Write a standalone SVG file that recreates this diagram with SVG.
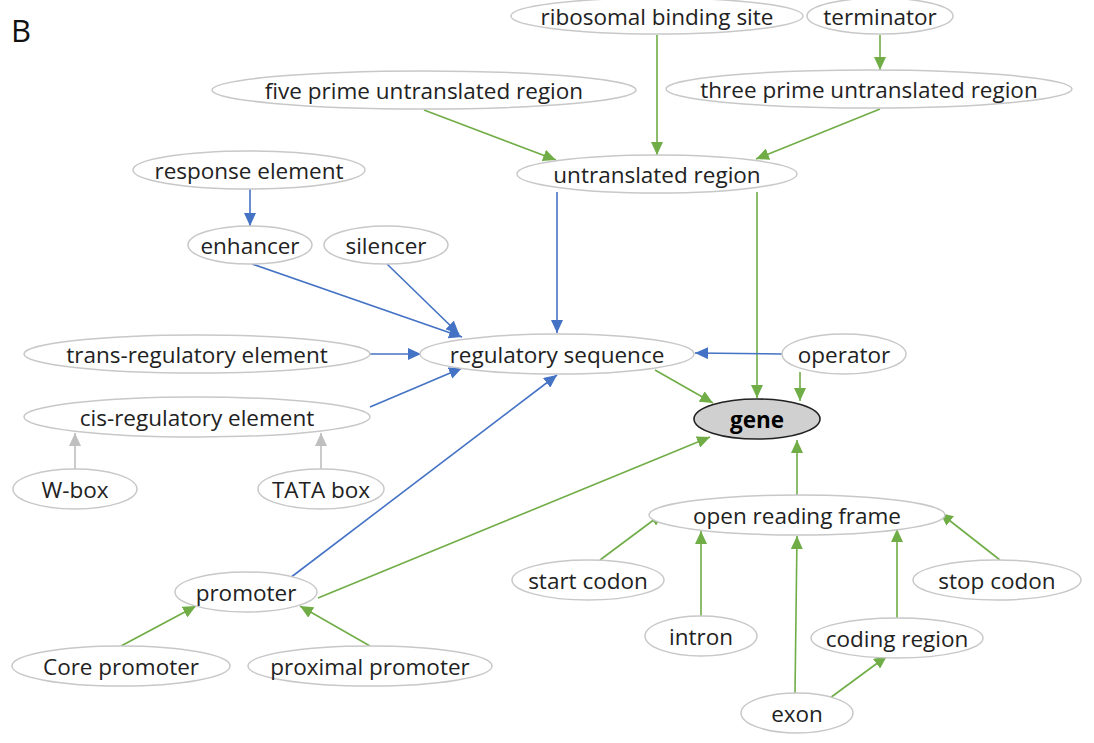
<svg xmlns="http://www.w3.org/2000/svg" width="1094" height="743" viewBox="0 0 1094 743">
<style>
.n ellipse{fill:#fff;stroke:#c8c8c8;stroke-width:1.5}
.n text{font-family:"Open Sans","Liberation Sans",sans-serif;font-size:22.5px;fill:#222;text-anchor:middle;dominant-baseline:central}
.g{stroke:#70ad47;stroke-width:1.6;fill:none}
.b{stroke:#4472c4;stroke-width:1.6;fill:none}
.y{stroke:#bfbfbf;stroke-width:1.6;fill:none}
</style>
<defs>
<marker id="ag" markerUnits="userSpaceOnUse" markerWidth="14" markerHeight="12" refX="13" refY="6" orient="auto"><path d="M0,0 L13,6 L0,12 Z" fill="#70ad47"/></marker>
<marker id="ab" markerUnits="userSpaceOnUse" markerWidth="14" markerHeight="12" refX="13" refY="6" orient="auto"><path d="M0,0 L13,6 L0,12 Z" fill="#4472c4"/></marker>
<marker id="ay" markerUnits="userSpaceOnUse" markerWidth="14" markerHeight="12" refX="13" refY="6" orient="auto"><path d="M0,0 L13,6 L0,12 Z" fill="#bfbfbf"/></marker>
</defs>
<rect width="1094" height="743" fill="#fff"/>
<text x="11" y="42" font-family="Open Sans,Liberation Sans,sans-serif" font-size="31" fill="#111">B</text>
<g id="connectors">
<line class="g" x1="657" y1="35" x2="657" y2="155" marker-end="url(#ag)"/>
<line class="g" x1="880" y1="35" x2="880" y2="70" marker-end="url(#ag)"/>
<line class="g" x1="424" y1="110" x2="556" y2="160" marker-end="url(#ag)"/>
<line class="g" x1="880" y1="109" x2="756" y2="159" marker-end="url(#ag)"/>
<line class="g" x1="757" y1="192" x2="757" y2="398" marker-end="url(#ag)"/>
<line class="g" x1="800" y1="372" x2="800" y2="401" marker-end="url(#ag)"/>
<line class="g" x1="655" y1="370" x2="713" y2="403" marker-end="url(#ag)"/>
<line class="g" x1="318" y1="598" x2="710" y2="437" marker-end="url(#ag)"/>
<line class="g" x1="797" y1="495" x2="797" y2="440" marker-end="url(#ag)"/>
<line class="g" x1="600" y1="560" x2="663" y2="513" marker-end="url(#ag)"/>
<line class="g" x1="701" y1="616" x2="701" y2="531" marker-end="url(#ag)"/>
<line class="g" x1="795" y1="693" x2="797" y2="536" marker-end="url(#ag)"/>
<line class="g" x1="897" y1="618" x2="897" y2="529" marker-end="url(#ag)"/>
<line class="g" x1="1000" y1="560" x2="940" y2="513" marker-end="url(#ag)"/>
<line class="g" x1="830" y1="698" x2="887" y2="656" marker-end="url(#ag)"/>
<line class="g" x1="121" y1="646" x2="196" y2="606" marker-end="url(#ag)"/>
<line class="g" x1="370" y1="646" x2="300" y2="606" marker-end="url(#ag)"/>
<line class="b" x1="250" y1="189" x2="250" y2="226" marker-end="url(#ab)"/>
<line class="b" x1="252" y1="264" x2="462" y2="337" marker-end="url(#ab)"/>
<line class="b" x1="387" y1="264" x2="459" y2="334" marker-end="url(#ab)"/>
<line class="b" x1="557" y1="192" x2="557" y2="333" marker-end="url(#ab)"/>
<line class="b" x1="370" y1="354" x2="421" y2="354" marker-end="url(#ab)"/>
<line class="b" x1="370" y1="407" x2="462" y2="368" marker-end="url(#ab)"/>
<line class="b" x1="290" y1="578" x2="557" y2="375" marker-end="url(#ab)"/>
<line class="b" x1="782" y1="354" x2="695" y2="353" marker-end="url(#ab)"/>
<line class="y" x1="75" y1="469" x2="75" y2="433" marker-end="url(#ay)"/>
<line class="y" x1="321" y1="469" x2="321" y2="433" marker-end="url(#ay)"/>
</g>
<g id="ribosomal-binding-site" class="n"><ellipse cx="657" cy="16" rx="146" ry="18"/><text x="657" y="16">ribosomal binding site</text></g>
<g id="terminator" class="n"><ellipse cx="880" cy="16" rx="73" ry="18"/><text x="880" y="16">terminator</text></g>
<g id="five-prime-utr" class="n"><ellipse cx="424" cy="90" rx="212" ry="19"/><text x="424" y="90">five prime untranslated region</text></g>
<g id="three-prime-utr" class="n"><ellipse cx="869" cy="89" rx="203" ry="19"/><text x="869" y="89">three prime untranslated region</text></g>
<g id="untranslated-region" class="n"><ellipse cx="657" cy="174" rx="140" ry="19"/><text x="657" y="174">untranslated region</text></g>
<g id="response-element" class="n"><ellipse cx="249" cy="170" rx="116" ry="19"/><text x="249" y="170">response element</text></g>
<g id="enhancer" class="n"><ellipse cx="250" cy="245" rx="62" ry="19"/><text x="250" y="245">enhancer</text></g>
<g id="silencer" class="n"><ellipse cx="386" cy="245" rx="62" ry="19"/><text x="386" y="245">silencer</text></g>
<g id="trans-regulatory-element" class="n"><ellipse cx="197" cy="354" rx="173" ry="19"/><text x="197" y="354">trans-regulatory element</text></g>
<g id="regulatory-sequence" class="n"><ellipse cx="557" cy="354" rx="137" ry="20"/><text x="557" y="354">regulatory sequence</text></g>
<g id="operator" class="n"><ellipse cx="844" cy="354" rx="62" ry="20"/><text x="844" y="354">operator</text></g>
<g id="gene" class="n"><ellipse cx="757" cy="419" rx="63" ry="20" style="fill:#d0d0d0;stroke:#222;stroke-width:1.6"/><text x="757" y="419" style="font-weight:bold;fill:#000">gene</text></g>
<g id="cis-regulatory-element" class="n"><ellipse cx="197" cy="417" rx="173" ry="20"/><text x="197" y="417">cis-regulatory element</text></g>
<g id="w-box" class="n"><ellipse cx="75" cy="489" rx="62" ry="20"/><text x="75" y="489">W-box</text></g>
<g id="tata-box" class="n"><ellipse cx="321" cy="489" rx="63" ry="20"/><text x="321" y="489">TATA box</text></g>
<g id="open-reading-frame" class="n"><ellipse cx="797" cy="515" rx="148" ry="20"/><text x="797" y="515">open reading frame</text></g>
<g id="start-codon" class="n"><ellipse cx="588" cy="580" rx="76" ry="20"/><text x="588" y="580">start codon</text></g>
<g id="stop-codon" class="n"><ellipse cx="997" cy="580" rx="84" ry="20"/><text x="997" y="580">stop codon</text></g>
<g id="intron" class="n"><ellipse cx="701" cy="636" rx="56" ry="20"/><text x="701" y="636">intron</text></g>
<g id="coding-region" class="n"><ellipse cx="897" cy="638" rx="86" ry="20"/><text x="897" y="638">coding region</text></g>
<g id="exon" class="n"><ellipse cx="797" cy="713" rx="56" ry="20"/><text x="797" y="713">exon</text></g>
<g id="promoter" class="n"><ellipse cx="246" cy="592" rx="71" ry="20"/><text x="246" y="592">promoter</text></g>
<g id="core-promoter" class="n"><ellipse cx="121" cy="666" rx="109" ry="20"/><text x="121" y="666">Core promoter</text></g>
<g id="proximal-promoter" class="n"><ellipse cx="370" cy="666" rx="122" ry="20"/><text x="370" y="666">proximal promoter</text></g>
</svg>
